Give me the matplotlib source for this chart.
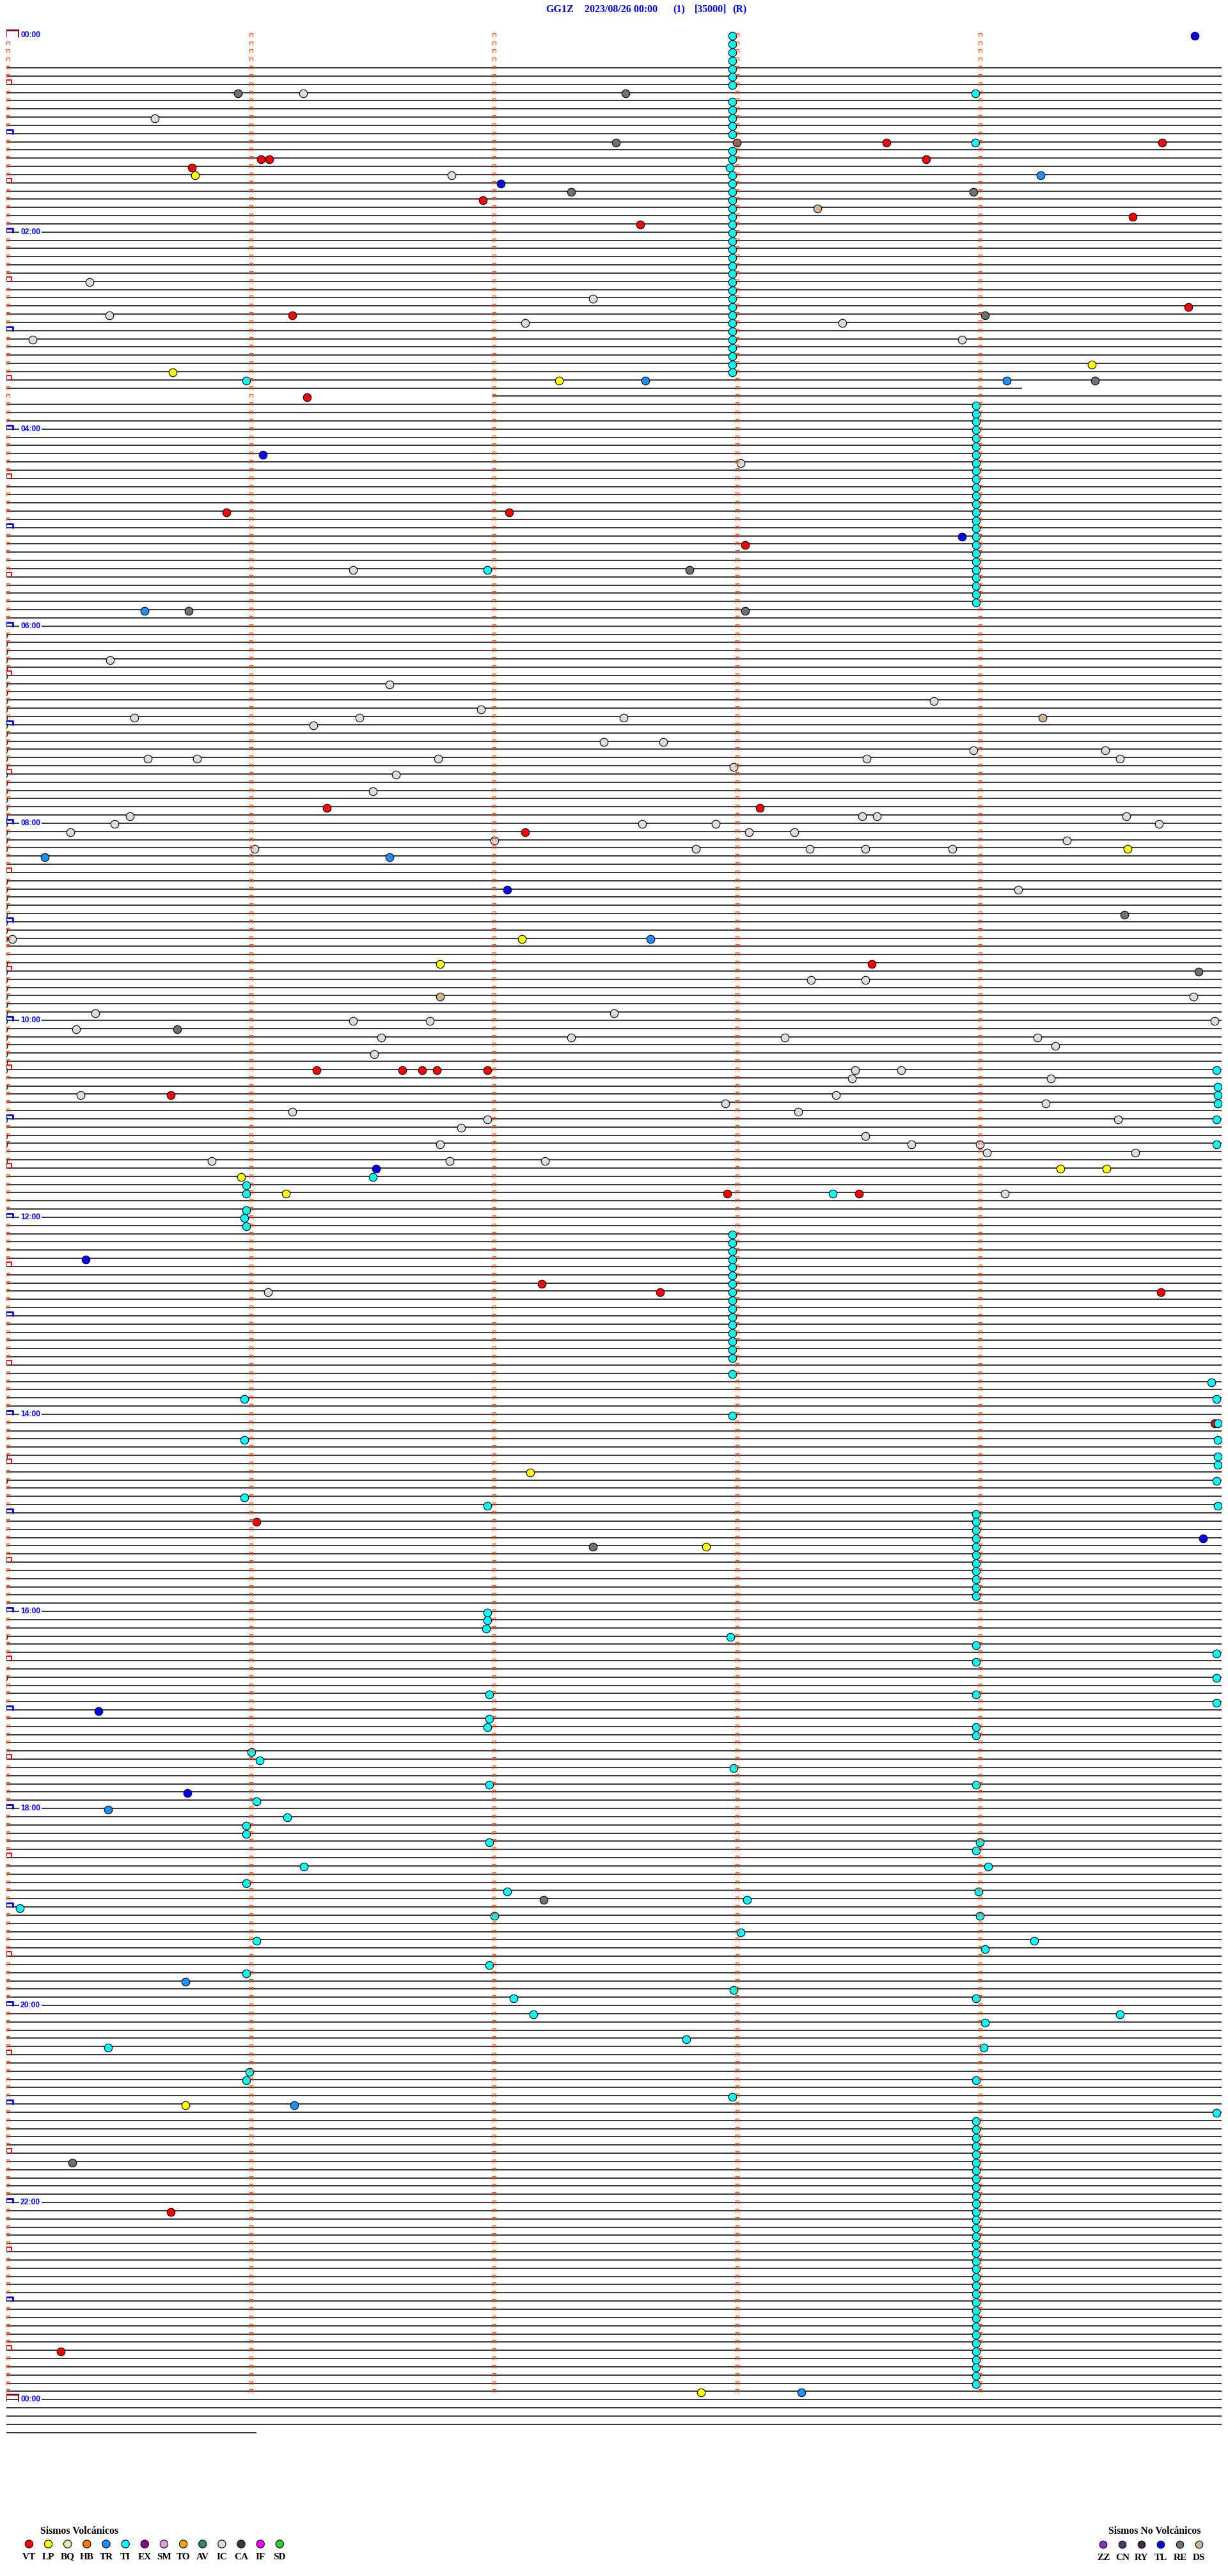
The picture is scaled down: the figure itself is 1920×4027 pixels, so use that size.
import matplotlib
matplotlib.use('Agg')
import matplotlib.pyplot as plt
from matplotlib.path import Path

# helicorder GG1Z 2023/08/26, 5 minutes per row
ROWS_PER_DAY = 288
first_line_row = 4
last_row = 292
line_start = {44: 2.0}             # rows whose trace starts late (minutes)
line_end = {43: 4.18, 292: 1.03}   # rows whose trace ends early (minutes)

hour_labels = ['00:00', '02:00', '04:00', '06:00', '08:00', '10:00', '12:00',
               '14:00', '16:00', '18:00', '20:00', '22:00', '00:00']

title_parts = ['GG1Z', '2023/08/26 00:00', '(1)', '[35000]', '(R)']

# events: (row, minute inside row)
TI = [(0, 2.987), (1, 2.987), (2, 2.987), (3, 2.987), (4, 2.987), (5, 2.987), (6, 2.987),
      (8, 2.987), (9, 2.987), (10, 2.987), (11, 2.987), (12, 2.987),
      (14, 2.987), (15, 2.987), (16, 2.975), (17, 2.987), (18, 2.987), (19, 2.987),
      (20, 2.987), (21, 2.987), (22, 2.987), (23, 2.987), (24, 2.987), (25, 2.987),
      (26, 2.987), (27, 2.987), (28, 2.987), (29, 2.987), (30, 2.987), (31, 2.987),
      (32, 2.987), (33, 2.987), (34, 2.987), (35, 2.987), (36, 2.987), (37, 2.987),
      (38, 2.987), (39, 2.987), (40, 2.987), (41, 2.987),
      (7, 3.986), (13, 3.986), (42, 0.987), (65, 1.98),
      (45, 3.99), (46, 3.99), (47, 3.99), (48, 3.99), (49, 3.99), (50, 3.99), (51, 3.99),
      (52, 3.99), (53, 3.99), (54, 3.99), (55, 3.99), (56, 3.99), (57, 3.99), (58, 3.99),
      (59, 3.99), (60, 3.99), (61, 3.99), (62, 3.99), (63, 3.99), (64, 3.99), (65, 3.99),
      (66, 3.99), (67, 3.99), (68, 3.99), (69, 3.99),
      (73, -0.013), (74, -0.013), (75, -0.013), (76, -0.013), (77, -0.013), (78, -0.013),
      (79, -0.013), (80, -0.013), (81, -0.013), (82, -0.013), (83, -0.013), (84, -0.013),
      (85, -0.013), (86, -0.013), (87, -0.013), (88, -0.013), (89, -0.013), (90, -0.013),
      (91, -0.013), (92, -0.013), (93, -0.013), (94, -0.013), (95, -0.013), (96, -0.013),
      (97, -0.013), (98, -0.013), (99, -0.013),
      (103, -0.013), (104, -0.013), (105, -0.013), (106, -0.013), (107, -0.013),
      (108, -0.013), (109, -0.013), (110, -0.013),
      (113, -0.013), (114, -0.013), (115, -0.013), (116, -0.013), (117, -0.013),
      (118, -0.013), (119, -0.013), (120, -0.013), (121, -0.013), (122, -0.013),
      (123, -0.013), (124, -0.013), (125, -0.013), (126, -0.013),
      (128, -0.013), (132, -0.013), (134, -0.013), (135, -0.013), (137, -0.013),
      (126, 4.98), (128, 4.984), (129, 4.984), (130, 4.984), (132, 4.98), (135, 4.98),
      (139, 1.507), (141, 3.399), (140, 0.987), (141, 0.987), (143, 0.987), (144, 0.98),
      (145, 0.987),
      (146, 2.986), (147, 2.986), (148, 2.986), (149, 2.986), (150, 2.986), (151, 2.986),
      (152, 2.986), (153, 2.986), (154, 2.986), (155, 2.986), (156, 2.986), (157, 2.986),
      (158, 2.986), (159, 2.986), (160, 2.986), (161, 2.986),
      (163, 2.986), (166, 0.98), (168, 2.986), (171, 0.98), (173, -0.013), (176, -0.013),
      (178, 0.98), (179, 1.98),
      (164, 4.958), (166, 4.98), (169, 4.985), (171, 4.985), (173, 4.985), (174, 4.985),
      (176, 4.98), (179, 4.985),
      (180, 3.99), (181, 3.99), (182, 3.99), (183, 3.99), (184, 3.99), (185, 3.99),
      (186, 3.99), (187, 3.99), (188, 3.99), (189, 3.99), (190, 3.99),
      (192, 1.98), (193, 1.98), (194, 1.973), (195, -0.013), (195, 2.979), (196, 3.99),
      (197, 4.98), (198, 3.99), (200, -0.013), (200, 4.98), (202, 1.987), (202, 3.99),
      (203, 4.98), (205, 1.987), (206, 1.98), (206, 3.99), (207, 3.99), (209, 1.007),
      (210, 1.041), (211, 2.993), (213, 1.987), (213, 3.99), (215, 1.028), (217, 1.156),
      (218, 0.987), (219, 0.987), (220, 1.987), (220, 4.006), (221, 3.99), (223, 1.223),
      (223, 4.04), (225, 0.987), (226, 2.061), (226, 3.999), (227, 3.047), (228, 0.055),
      (229, 2.007), (229, 4.006), (231, 3.02), (232, 1.028), (232, 4.229), (233, 4.027),
      (235, 1.987), (236, 0.987), (238, 2.993), (239, 2.088), (239, 3.99), (241, 2.169),
      (241, 4.581), (242, 4.027), (244, 2.797), (245, 0.419), (245, 4.02), (248, 1.0),
      (249, 0.987), (249, 3.99), (251, 2.986), (253, 4.98),
      (254, 3.99), (255, 3.99), (256, 3.99), (257, 3.99), (258, 3.99), (259, 3.99),
      (260, 3.99), (261, 3.99), (262, 3.99), (263, 3.99), (264, 3.99), (265, 3.99),
      (266, 3.99), (267, 3.99), (268, 3.99), (269, 3.99), (270, 3.99), (271, 3.99),
      (272, 3.99), (273, 3.99), (274, 3.99), (275, 3.99), (276, 3.99), (277, 3.99),
      (278, 3.99), (279, 3.99), (280, 3.99), (281, 3.99), (282, 3.99), (283, 3.99),
      (284, 3.99), (285, 3.99), (286, 3.99)]

VT = [(13, 3.621), (13, 4.756), (15, 1.048), (15, 1.082), (15, 3.783), (16, 0.764),
      (20, 1.96), (22, 4.635), (23, 2.608), (34, 1.176), (33, 4.864), (44, 1.237),
      (58, 0.906), (58, 2.068), (62, 3.04), (94, 1.318), (94, 3.101), (97, 2.135),
      (113, 3.561), (126, 1.277), (126, 1.628), (126, 1.71), (126, 1.77), (126, 1.98),
      (129, 0.676), (141, 2.966), (141, 3.507), (152, 2.203), (153, 2.689), (153, 4.75),
      (169, 4.97), (181, 1.028), (265, 0.676), (282, 0.223)]

LP = [(17, 0.777), (40, 4.466), (41, 0.683), (42, 2.273), (99, 4.614), (110, 2.122),
      (113, 1.784), (139, 0.967), (138, 4.337), (138, 4.527), (141, 1.149), (175, 2.155),
      (184, 2.878), (252, 0.737), (287, 2.858)]

TR = [(17, 4.256), (42, 2.63), (42, 4.116), (70, 0.568), (100, 0.158), (100, 1.575),
      (110, 2.649), (216, 0.419), (237, 0.737), (252, 1.183), (287, 3.27)]

TL = [(0, 4.889), (18, 2.034), (51, 1.054), (61, 3.932), (104, 2.061), (138, 1.52),
      (149, 0.325), (183, 4.924), (204, 0.379), (214, 0.744)]

RE = [(7, 0.953), (7, 2.547), (13, 2.507), (13, 3.005), (19, 3.979), (19, 2.324),
      (34, 4.027), (42, 4.48), (65, 2.811), (70, 0.75), (70, 3.04), (107, 4.601),
      (114, 4.905), (121, 0.703), (184, 2.412), (227, 2.21), (259, 0.271)]

DS = [(21, 3.338), (83, 4.263), (117, 1.784)]

IC = [(7, 1.22), (10, 0.61), (17, 1.831), (30, 0.342), (32, 2.412), (34, 0.424),
      (35, 2.135), (35, 3.439), (37, 0.109), (37, 3.932), (52, 3.02), (65, 1.426),
      (76, 0.426), (79, 1.575), (81, 3.817), (83, 0.527), (84, 1.264), (83, 1.453),
      (82, 1.953), (83, 2.54), (86, 2.459), (86, 2.703), (88, 0.581), (88, 0.784),
      (88, 1.777), (88, 3.54), (87, 3.979), (87, 4.52), (88, 4.581), (89, 2.993),
      (90, 1.602), (92, 1.507), (95, 0.507), (96, 0.446), (97, 0.263), (96, 2.615),
      (96, 2.919), (97, 3.054), (97, 3.243), (95, 3.52), (95, 3.581), (95, 4.608),
      (96, 4.743), (99, 1.021), (99, 2.838), (99, 3.304), (99, 3.534), (99, 3.892),
      (98, 2.007), (98, 4.364), (104, 4.162), (110, 0.024),
      (115, 3.311), (115, 3.534), (117, 4.884), (119, 0.365), (119, 2.5), (120, 4.972),
      (121, 0.287), (120, 1.426), (120, 1.743), (122, 1.541), (122, 2.324), (122, 3.203),
      (122, 4.243), (123, 4.317), (124, 1.514), (126, 3.682), (126, 3.493), (127, 3.48),
      (127, 4.297), (129, 0.305), (129, 3.412), (130, 2.959), (130, 4.277), (131, 1.176),
      (131, 3.257), (132, 1.98), (132, 4.574), (133, 1.872), (135, 1.784), (134, 3.534),
      (135, 3.723), (135, 4.006), (136, 4.033), (136, 4.645), (137, 0.845), (137, 1.824),
      (137, 2.216), (141, 4.108), (153, 1.075)]

event_colors = {'IC': '#DCDCDC', 'TI': '#00FFFF', 'RE': '#707070', 'DS': '#D2B48C',
                'TR': '#1E90FF', 'LP': '#FFFF00', 'TL': '#0000FF', 'VT': '#FF0000'}
# drawing order: later entries sit on top
events = {'IC': IC, 'RE': RE, 'DS': DS, 'TR': TR, 'LP': LP, 'VT': VT, 'TI': TI, 'TL': TL}

volc_codes = ['VT', 'LP', 'BQ', 'HB', 'TR', 'TI', 'EX', 'SM', 'TO', 'AV', 'IC', 'CA', 'IF', 'SD']
volc_colors = ['#FF0000', '#FFFF00', '#EEE8AA', '#FF8000', '#1E90FF', '#00FFFF', '#8B008B',
               '#DDA0DD', '#FFA500', '#2E8B6E', '#DCDCDC', '#4B2D50', '#FF00FF', '#32CD32']
nonvolc_codes = ['ZZ', 'CN', 'RY', 'TL', 'RE', 'DS']
nonvolc_colors = ['#8A2BE2', '#4B3B6B', '#4B2850', '#0000FF', '#707070', '#D2B48C']

# ---------------------------------------------------------------
W, H = 1920, 4027
fig = plt.figure(figsize=(W / 100, H / 100), dpi=100)
PX = 0.72  # points per pixel

# trace axes: minute 0..5 -> x 10..1910 px, row r -> y 54.7 + 12.835 r px
row_px, row0_px = 12.835, 54.7
ytop, ybot = -4, 296
top_px = row0_px + ytop * row_px
bot_px = row0_px + ybot * row_px
ax = fig.add_axes([10 / W, 1 - bot_px / H, 1900 / W, (bot_px - top_px) / H])
ax.set_xlim(0, 5)
ax.set_ylim(ybot, ytop)
ax.axis('off')

rows = list(range(first_line_row, last_row + 1))
ax.hlines(rows, [line_start.get(r, 0) for r in rows], [line_end.get(r, 5) for r in rows],
          color='black', lw=1.1, zorder=1)


def bracket(w, up, down, x0=0):
    verts = [(x0, -down), (x0, up), (x0 + w, up), (x0 + w, -down)]
    m = max(abs(v) for p in verts for v in p)
    return Path(verts, [Path.MOVETO, Path.LINETO, Path.LINETO, Path.LINETO]), 2 * m * PX


small, small_ms = bracket(5, 3, 2)
half, half_ms = bracket(8, 7, 1)
hour, hour_ms = bracket(11, 6, 1, x0=-1)
day, day_ms = bracket(20, 8.5, 2.5, x0=-1)

tick_rows = list(range(ROWS_PER_DAY))
for k in range(1, 5):
    ax.plot([k] * len(tick_rows), tick_rows, ls='none', marker=small, ms=small_ms,
            mec='#FF5010', mew=1.0, mfc='none', zorder=4)
r_small = [r for r in tick_rows if r % 6 != 0]
r_half = [r for r in tick_rows if r % 12 == 6]
r_hour = [r for r in tick_rows if r % 12 == 0 and r % ROWS_PER_DAY != 0]
ax.plot([0] * len(r_small), r_small, ls='none', marker=small, ms=small_ms,
        mec='#FF5010', mew=1.0, mfc='none', zorder=4)
ax.plot([0] * len(r_half), r_half, ls='none', marker=half, ms=half_ms,
        mec='#FF0000', mew=1.4, mfc='none', zorder=4)
ax.plot([0] * len(r_hour), r_hour, ls='none', marker=hour, ms=hour_ms,
        mec='#0000FF', mew=2.0, mfc='none', zorder=4)
ax.plot([0, 0], [0, ROWS_PER_DAY], ls='none', marker=day, ms=day_ms,
        mec='#8B0000', mew=2.0, mfc='none', zorder=4)

for i, lab in enumerate(hour_labels):
    ax.text(0.058, i * 24, lab, color='#0000FF', fontsize=8.7, fontweight='bold',
            family='Liberation Sans', va='center', ha='left', zorder=5,
            bbox=dict(facecolor='white', edgecolor='none', pad=1.2))

for code, pts in events.items():
    ax.scatter([p[1] for p in pts], [p[0] + 0.12 for p in pts], s=(12.5 * PX) ** 2,
               c=event_colors[code], edgecolors='black', linewidths=0.8, zorder=3)

# header and legends in pixel coordinates
lax = fig.add_axes([0, 0, 1, 1], zorder=-1)
lax.set_xlim(0, W)
lax.set_ylim(H, 0)
lax.axis('off')

title_x = [853, 914, 1052, 1086, 1145]
for x, s in zip(title_x, title_parts):
    lax.text(x, 15, s, color='#0000FF', fontsize=11.5, fontweight='bold',
             family='Liberation Serif', va='center', ha='left')

serif = dict(family='Liberation Serif', fontweight='bold', color='black')
lax.text(63, 3957, 'Sismos Volcánicos', va='center', ha='left', fontsize=11.4, **serif)
vx = [45.4 + 30.15 * i for i in range(len(volc_codes))]
lax.scatter(vx, [3977] * len(vx), s=(12.3 * PX) ** 2, c=volc_colors,
            edgecolors='black', linewidths=0.8)
for x, c in zip(vx, volc_codes):
    lax.text(x, 3997, c, va='center', ha='center', fontsize=11, **serif)

lax.text(1733, 3957, 'Sismos No Volcánicos', va='center', ha='left', fontsize=11.3, **serif)
nx = [1725 + 30 * i for i in range(len(nonvolc_codes))]
lax.scatter(nx, [3978] * len(nx), s=(11.5 * PX) ** 2, c=nonvolc_colors,
            edgecolors='black', linewidths=0.8)
for x, c in zip(nx, nonvolc_codes):
    lax.text(x, 3998, c, va='center', ha='center', fontsize=11, **serif)

fig.savefig('out.png', dpi=100, facecolor='white')
